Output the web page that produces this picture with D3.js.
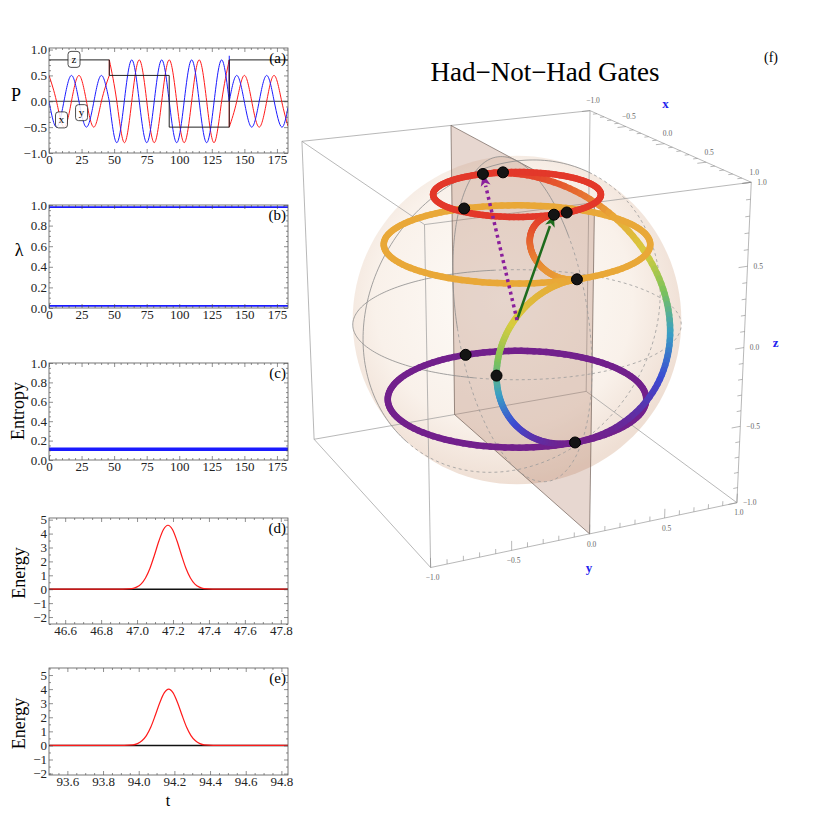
<!DOCTYPE html>
<html>
<head>
<meta charset="utf-8">
<script src="https://cdnjs.cloudflare.com/ajax/libs/d3/7.8.5/d3.min.js"></script>
<style>
  body { margin: 0; background: #fff; }
  text { font-family: "Liberation Serif", "Times New Roman", serif; }
</style>
</head>
<body>
<svg id="fig" width="830" height="830"></svg>
<script>
// ---------------- data ----------------

// (a) polarisation components, knots at quarter periods, one list per gate interval
const redSegs = [
  [[0,0.5],[5.75,0],[11.5,-0.5],[17.25,0],[23,0.5],[28.75,0],[34.5,-0.5],[40.25,0],[46.3,0.5]],
  [[46.3,0.8],[52.05,0],[57.8,-0.8],[63.55,0],[69.3,0.8],[75.05,0],[80.8,-0.8],[86.55,0],[92.3,0.8],
   [98.05,0],[103.8,-0.8],[109.55,0],[115.3,0.8],[121.05,0],[126.8,-0.8],[132.55,0],[138.4,0.8]],
  [[138.4,-0.5],[144.15,0],[149.9,0.5],[155.65,0],[161.4,-0.5],[167.15,0],[172.9,0.5],[178.65,0],[183.5,-0.48]]
];
const blueSegs = [
  [[0,0],[5.75,-0.5],[11.5,0],[17.25,0.5],[23,0],[28.75,-0.5],[34.5,0],[40.25,0.5],[46.3,0]],
  [[46.3,0],[52.05,-0.8],[57.8,0],[63.55,0.8],[69.3,0],[75.05,-0.8],[80.8,0],[86.55,0.8],[92.3,0],
   [98.05,-0.8],[103.8,0],[109.55,0.8],[115.3,0],[121.05,-0.8],[126.8,0],[132.55,0.8],[138.4,0]],
  [[138.4,0],[144.15,0.5],[149.9,0],[155.65,-0.5],[161.4,0],[167.15,0.5],[172.9,0],[178.65,-0.5],[183.5,-0.12]]
];
const blueSpike = [[138.4,0],[138.4,0.88]];
const zStep = [[0,0.8],[46.3,0.8],[46.3,0.5],[92.3,0.5],[92.3,-0.5],[138.4,-0.5],[138.4,0.8],[183.5,0.8]];
const compNames = ["z", "x", "y"];
const compAt = [[19.2,0.81],[9.6,-0.36],[25.0,-0.22]];

// (b) eigenvalues, (c) entropy
const lambdas = [0.98, 0.02];
const entropy = 0.11;

// (d), (e) pulse energy during the gates
const pulseTd = [46.51,46.872,46.972,46.997,47.022,47.047,47.072,47.097,47.122,47.147,47.172,
                 47.197,47.222,47.247,47.272,47.297,47.322,47.347,47.372,47.472,47.84];
const pulseEd = [0,0,0.05,0.15,0.37,0.81,1.51,2.46,3.48,4.29,4.6,4.29,3.48,2.46,1.51,0.81,0.37,0.15,0.05,0,0];
const pulseTe = [93.5,93.868,93.968,93.993,94.018,94.043,94.068,94.093,94.118,94.143,94.168,
                 94.193,94.218,94.243,94.268,94.293,94.318,94.343,94.368,94.468,94.84];
const pulseEe = [0,0,0.04,0.13,0.33,0.7,1.31,2.14,3.03,3.73,4.0,3.73,3.03,2.14,1.31,0.7,0.33,0.13,0.04,0,0];

// (f) Bloch-sphere trajectory
const circleZ = [0.8, 0.5, -0.5];
const circleR = [0.5, 0.8, 0.8];
const gateFrom = [[0.5,0,0.8],[0.8,0,0.5],[0.8,0,-0.5]];
const gateTo   = [[0.8,0,0.5],[0.8,0,-0.5],[-0.5,0,0.8]];
const gateAxis = [[1,0,1],[1,0,0],[1,0,1]];
const markers = [[0.5,0,0.8],[0.49,0.087,0.8],[0.8,0,0.5],[-0.8,0,0.5],[0.8,0,-0.5],
                 [-0.8,0,-0.5],[-0.5,0,0.8],[-0.483,0.129,0.8],[0.8,-0.5,0]];
const startVec = [0.5,0,0.8];
const finalVec = [-0.5,0,0.8];
const boxTicks = [-1,-0.5,0,0.5,1];

// ---------------- left column ----------------
const svg = d3.select("#fig");
const X0 = 49, X1 = 288;

function panel(cfg) {
  const x = d3.scaleLinear().domain(cfg.xDomain).range([X0, X1]);
  const y = d3.scaleLinear().domain(cfg.yDomain).range([cfg.bottom, cfg.top]);
  const g = svg.append("g");
  g.append("clipPath").attr("id", "clip-" + cfg.tag)
    .append("rect").attr("x", X0).attr("y", cfg.top).attr("width", X1 - X0).attr("height", cfg.bottom - cfg.top);
  const plot = g.append("g").attr("clip-path", `url(#clip-${cfg.tag})`);

  const axes = g.append("g");
  const add = (axisFn, scale, tr, vals, size, fmt) => {
    const a = axisFn(scale).tickValues(vals).tickSizeInner(size).tickSizeOuter(0).tickPadding(2)
      .tickFormat(fmt || (() => ""));
    const s = axes.append("g").attr("transform", tr).call(a);
    s.select(".domain").remove();
    s.attr("font-size", 13).attr("font-family", "Liberation Serif, serif").attr("color", "#444");
    s.selectAll("text").attr("fill", "#222");
    s.selectAll("line").attr("stroke-width", 0.6);
  };
  const minor = (dom, step, major) => d3.range(Math.ceil(dom[0] / step) * step, dom[1], step)
    .filter(v => !major.some(m => Math.abs(m - v) < step / 10));
  const xm = minor(cfg.xDomain, cfg.xMinor, cfg.xTicks), ym = minor(cfg.yDomain, cfg.yMinor, cfg.yTicks);
  add(d3.axisBottom, x, `translate(0,${cfg.bottom})`, cfg.xTicks, -4, cfg.xFmt);
  add(d3.axisBottom, x, `translate(0,${cfg.bottom})`, xm, -2);
  add(d3.axisTop, x, `translate(0,${cfg.top})`, cfg.xTicks, -4);
  add(d3.axisTop, x, `translate(0,${cfg.top})`, xm, -2);
  add(d3.axisLeft, y, `translate(${X0},0)`, cfg.yTicks, -4, cfg.yFmt);
  add(d3.axisLeft, y, `translate(${X0},0)`, ym, -2);
  add(d3.axisRight, y, `translate(${X1},0)`, cfg.yTicks, -4);
  add(d3.axisRight, y, `translate(${X1},0)`, ym, -2);

  g.append("rect").attr("x", X0).attr("y", cfg.top).attr("width", X1 - X0).attr("height", cfg.bottom - cfg.top)
    .attr("fill", "none").attr("stroke", "#555").attr("stroke-width", 0.8);
  g.append("text").attr("x", 286).attr("y", cfg.top + 15).attr("text-anchor", "end")
    .attr("font-size", 15).text(cfg.letter);
  const lab = g.append("text").attr("font-size", 18).attr("text-anchor", "middle").text(cfg.label);
  if (cfg.rotate) lab.attr("transform", `translate(${cfg.labelX},${cfg.labelY}) rotate(-90)`).attr("dy", "0.35em");
  else lab.attr("x", cfg.labelX).attr("y", cfg.labelY).attr("dy", "0.35em");
  return { x, y, plot };
}

const tFmt = d3.format("d"), f1 = d3.format(".1f");
const longT = { xDomain: [0, 183.5], xTicks: d3.range(0, 176, 25), xMinor: 5, xFmt: tFmt };

// (a)
const pa = panel({ ...longT, tag: "a", top: 48, bottom: 153, yDomain: [-1, 1.03], yTicks: [-1, -0.5, 0, 0.5, 1],
  yMinor: 0.1, yFmt: f1, letter: "(a)", label: "P", labelX: 16, labelY: 95 });
const natural = d3.line().x(d => pa.x(d[0])).y(d => pa.y(d[1])).curve(d3.curveNatural);
const straight = d3.line().x(d => pa.x(d[0])).y(d => pa.y(d[1]));
pa.plot.append("line").attr("x1", X0).attr("x2", X1).attr("y1", pa.y(0)).attr("y2", pa.y(0))
  .attr("stroke", "#222").attr("stroke-width", 0.9);
[[redSegs, "#ff1a1a"], [blueSegs, "#1a1aff"]].forEach(([segs, col]) => {
  segs.forEach((s, i) => {
    pa.plot.append("path").attr("d", natural(s)).attr("fill", "none").attr("stroke", col).attr("stroke-width", 1);
    if (i > 0) pa.plot.append("path").attr("d", straight([segs[i - 1][segs[i - 1].length - 1], s[0]]))
      .attr("fill", "none").attr("stroke", col).attr("stroke-width", 1);
  });
});
pa.plot.append("path").attr("d", straight(blueSpike)).attr("stroke", "#1a1aff").attr("stroke-width", 1);
pa.plot.append("path").attr("d", straight(zStep)).attr("fill", "none").attr("stroke", "#222").attr("stroke-width", 1);
compNames.forEach((n, i) => {
  const cx = pa.x(compAt[i][0]), cy = pa.y(compAt[i][1]);
  pa.plot.append("rect").attr("x", cx - 6).attr("y", cy - 8).attr("width", 12).attr("height", 16).attr("rx", 3)
    .attr("fill", "rgba(255,255,255,0.85)").attr("stroke", "#222").attr("stroke-width", 0.8);
  pa.plot.append("text").attr("x", cx).attr("y", cy).attr("dy", "0.3em").attr("text-anchor", "middle")
    .attr("font-size", 11).text(n);
});

// (b)
const pb = panel({ ...longT, tag: "b", top: 205, bottom: 308, yDomain: [0, 1], yTicks: d3.range(0, 1.01, 0.2),
  yMinor: 0.05, yFmt: f1, letter: "(b)", label: "λ", labelX: 19, labelY: 250 });
pb.plot.selectAll("line.lam").data(lambdas).join("line").attr("class", "lam")
  .attr("x1", X0).attr("x2", X1).attr("y1", d => pb.y(d)).attr("y2", d => pb.y(d))
  .attr("stroke", "#1a1aff").attr("stroke-width", 1.8);

// (c)
const pc = panel({ ...longT, tag: "c", top: 363, bottom: 460, yDomain: [0, 1], yTicks: d3.range(0, 1.01, 0.2),
  yMinor: 0.05, yFmt: f1, letter: "(c)", label: "Entropy", labelX: 18, labelY: 411, rotate: true });
pc.plot.append("line").attr("x1", X0).attr("x2", X1).attr("y1", pc.y(entropy)).attr("y2", pc.y(entropy))
  .attr("stroke", "#1a1aff").attr("stroke-width", 3.5);

// (d), (e)
function energyPanel(tag, top, bottom, xDom, yDom, xTicks, ts, es, letter) {
  const p = panel({ tag, top, bottom, xDomain: xDom, xTicks, xMinor: 0.05, xFmt: f1, yDomain: yDom,
    yTicks: d3.range(-2, 5.1, 1), yMinor: 0.5, yFmt: tFmt, letter, label: "Energy", labelX: 19,
    labelY: (top + bottom) / 2 + 2, rotate: true });
  const ln = d3.line().x(d => p.x(d[0])).y(d => p.y(d[1])).curve(d3.curveMonotoneX);
  p.plot.append("line").attr("x1", X0).attr("x2", X1).attr("y1", p.y(0)).attr("y2", p.y(0))
    .attr("stroke", "#111").attr("stroke-width", 1.4);
  p.plot.append("path").attr("d", ln(d3.zip(ts, es))).attr("fill", "none").attr("stroke", "#ff1a1a").attr("stroke-width", 1.2);
  return p;
}
energyPanel("d", 518, 624, [46.51, 47.84], [-2.5, 5.12], d3.range(46.6, 47.81, 0.2), pulseTd, pulseEd, "(d)");
energyPanel("e", 668, 775, [93.497, 94.837], [-2.1, 5.5], d3.range(93.6, 94.81, 0.2), pulseTe, pulseEe, "(e)");
svg.append("text").attr("x", 168).attr("y", 806).attr("text-anchor", "middle").attr("font-size", 16).text("t");

// ---------------- (f) Bloch sphere ----------------
const deg = Math.PI / 180;
const view = { az: -25 * deg, el: 19.5 * deg, dist: 11 };
const E = [Math.cos(view.el) * Math.cos(view.az), Math.cos(view.el) * Math.sin(view.az), Math.sin(view.el)];
const R = [-Math.sin(view.az), Math.cos(view.az), 0];
const U = [-Math.sin(view.el) * Math.cos(view.az), -Math.sin(view.el) * Math.sin(view.az), Math.cos(view.el)];
const dot = (a, b) => a[0] * b[0] + a[1] * b[1] + a[2] * b[2];
const cross = (a, b) => [a[1] * b[2] - a[2] * b[1], a[2] * b[0] - a[0] * b[2], a[0] * b[1] - a[1] * b[0]];
const norm = a => { const l = Math.hypot(...a); return a.map(v => v / l); };
// image-plane coordinates -> pixels
const sx = d3.scaleLinear().domain([0, 1]).range([517, 517 + 1800]);
const sy = d3.scaleLinear().domain([0, 1]).range([320, 320 - 1800]);
function proj(p) { const zc = view.dist - dot(p, E); return [sx(dot(p, R) / zc), sy(dot(p, U) / zc), zc]; }
const line3 = d3.line().x(d => proj(d)[0]).y(d => proj(d)[1]);

const f = svg.append("g");
const defs = svg.append("defs");
const grad = defs.append("radialGradient").attr("id", "sph").attr("cx", "46%").attr("cy", "44%").attr("r", "56%");
grad.append("stop").attr("offset", "0%").attr("stop-color", "#fefcf9");
grad.append("stop").attr("offset", "70%").attr("stop-color", "#f9f1ea");
grad.append("stop").attr("offset", "100%").attr("stop-color", "#efdfd4");

// sphere silhouette: tangent circle seen from the eye
const rho = Math.sqrt(1 - 1 / (view.dist * view.dist));
const silhouette = d3.range(0, 361, 3).map(a => {
  const t = a * deg;
  return E.map((e, i) => e / view.dist + rho * (Math.cos(t) * R[i] + Math.sin(t) * U[i]));
});
f.append("path").attr("d", line3(silhouette) + "Z").attr("fill", "url(#sph)").attr("stroke", "none");

// box
const corners = [];
[-1, 1].forEach(a => [-1, 1].forEach(b => [-1, 1].forEach(c => corners.push([a, b, c]))));
const edges = [];
corners.forEach((p, i) => corners.forEach((q, j) => {
  if (j > i && p.filter((v, k) => v !== q[k]).length === 1) edges.push([p, q]);
}));
f.append("g").selectAll("path").data(edges).join("path").attr("d", line3)
  .attr("stroke", "#9a9a9a").attr("stroke-width", 0.7).attr("fill", "none");

// the y = 0 plane
f.append("path").attr("d", line3([[-1, 0, -1], [1, 0, -1], [1, 0, 1], [-1, 0, 1]]) + "Z")
  .attr("fill", "#b07a62").attr("fill-opacity", 0.3).attr("stroke", "#5a4a42").attr("stroke-width", 0.6);

// great circles: solid on the half facing the mesh's reference direction, dashed on the other half
const meshSide = norm([-1.3, -2.4, 2]);
const circles = [t => [Math.cos(t), Math.sin(t), 0], t => [Math.cos(t), 0, Math.sin(t)], t => [0, Math.cos(t), Math.sin(t)]];
circles.forEach(c => {
  const pts = d3.range(0, 241).map(i => c(i / 240 * 2 * Math.PI));
  const front = p => dot(p, meshSide) > 0.15;
  let run = [pts[0]], vis = front(pts[0]);
  const flush = () => f.append("path").attr("d", line3(run)).attr("fill", "none")
    .attr("stroke", vis ? "#8c8c8c" : "#9a9a9a").attr("stroke-width", 0.8)
    .attr("stroke-dasharray", vis ? null : "3,3");
  pts.slice(1).forEach(p => {
    const v = front(p);
    run.push(p);
    if (v !== vis) { flush(); run = [p]; vis = v; }
  });
  flush();
});

// box axes: ticks and labels
const axisDefs = [
  { at: v => [v, 1, 1], dir: [0, -1, 0], dx: 3, dy: -10, anchor: "middle", name: "x", nameAt: [0, 1, 1.25] },
  { at: v => [1, v, -1], dir: [0, 0, 1], dx: 2, dy: 10, anchor: "middle", name: "y", nameAt: [1, 0, -1.22] },
  { at: v => [1, 1, v], dir: [0, -1, 0], dx: 6, dy: 0, anchor: "start", name: "z", nameAt: [1, 1.22, 0] }
];
const minorVals = d3.range(-10, 11).map(v => v / 10);
axisDefs.forEach(a => {
  const g = f.append("g");
  minorVals.forEach(v => {
    const major = boxTicks.includes(v);
    const p = a.at(v), q = p.map((c, i) => c + a.dir[i] * (major ? 0.06 : 0.03));
    g.append("path").attr("d", line3([p, q])).attr("stroke", "#888").attr("stroke-width", 0.6);
  });
  boxTicks.forEach(v => {
    const s = proj(a.at(v));
    g.append("text").attr("x", s[0] + a.dx).attr("y", s[1] + a.dy).attr("dy", "0.35em")
      .attr("text-anchor", a.anchor).attr("font-family", "Liberation Sans, sans-serif")
      .attr("font-size", 7.5).attr("fill", "#666").text(f1(v));
  });
  const n = proj(a.nameAt);
  g.append("text").attr("x", n[0]).attr("y", n[1]).attr("dy", "0.35em").attr("text-anchor", "middle")
    .attr("font-size", 13).attr("font-weight", "bold").attr("fill", "#2222ee").text(a.name);
});

// trajectory tubes: split into short pieces, painted back to front, coloured by height
const tubeColor = d3.scaleLinear()
  .domain([-0.5, -0.3, -0.1, 0.1, 0.3, 0.5, 0.8])
  .range(["#72208c", "#3c4ad2", "#3aa0c4", "#7cc25a", "#d6cc3e", "#e9a838", "#e3382a"]).clamp(true);
function rotate(v, k, a) {
  const c = Math.cos(a), s = Math.sin(a), kv = dot(k, v), kx = cross(k, v);
  return v.map((vi, i) => vi * c + kx[i] * s + k[i] * kv * (1 - c));
}
const paths3 = [];
circleZ.forEach((z, i) => paths3.push(d3.range(0, 121).map(j => {
  const t = j / 120 * 2 * Math.PI;
  return [circleR[i] * Math.cos(t), circleR[i] * Math.sin(t), z];
})));
gateFrom.forEach((from, i) => {
  const k = norm(gateAxis[i]), end = rotate(from, k, Math.PI);
  const fix = gateTo[i].map((v, j) => v - end[j]);
  paths3.push(d3.range(0, 81).map(j => {
    const s = j / 80, p = rotate(from, k, Math.PI * s);
    return p.map((v, m) => v + fix[m] * s);
  }));
});
const pieces = [];
paths3.forEach(pts => d3.pairs(pts).forEach(([a, b]) => {
  const mid = a.map((v, i) => (v + b[i]) / 2);
  pieces.push({ a, b, depth: proj(mid)[2], z: mid[2] });
}));
pieces.sort((p, q) => q.depth - p.depth);
f.append("g").selectAll("path").data(pieces).join("path")
  .attr("d", d => line3([d.a, d.b])).attr("stroke", d => tubeColor(d.z))
  .attr("stroke-width", 6.5).attr("stroke-linecap", "round").attr("fill", "none");

// state vectors
function arrow(tip, color, dash, width) {
  const o = proj([0, 0, 0]), t = proj(tip);
  const ang = Math.atan2(t[1] - o[1], t[0] - o[0]);
  const L = 12, W = 5;
  const bx = t[0] - L * Math.cos(ang), by = t[1] - L * Math.sin(ang);
  f.append("line").attr("x1", o[0]).attr("y1", o[1]).attr("x2", bx).attr("y2", by)
    .attr("stroke", color).attr("stroke-width", width).attr("stroke-dasharray", dash);
  f.append("path").attr("d", d3.line()([[t[0], t[1]],
      [bx - W * Math.sin(ang), by + W * Math.cos(ang)],
      [bx + 3 * Math.cos(ang), by + 3 * Math.sin(ang)],
      [bx + W * Math.sin(ang), by - W * Math.cos(ang)]]) + "Z").attr("fill", color);
}
arrow(startVec, "#1d6b1d", null, 2.5);
arrow(finalVec, "#8a1f9c", "3,3.5", 3.5);

// gate markers
f.append("g").selectAll("circle").data(markers).join("circle")
  .attr("cx", d => proj(d)[0]).attr("cy", d => proj(d)[1]).attr("r", 5.5)
  .attr("fill", "#141414").attr("stroke", "#000").attr("stroke-width", 1);

svg.append("text").attr("x", 545).attr("y", 81).attr("text-anchor", "middle").attr("font-size", 27)
  .text("Had\u2212Not\u2212Had Gates");
svg.append("text").attr("x", 771).attr("y", 62).attr("text-anchor", "middle").attr("font-size", 14).text("(f)");
</script>
</body>
</html>
